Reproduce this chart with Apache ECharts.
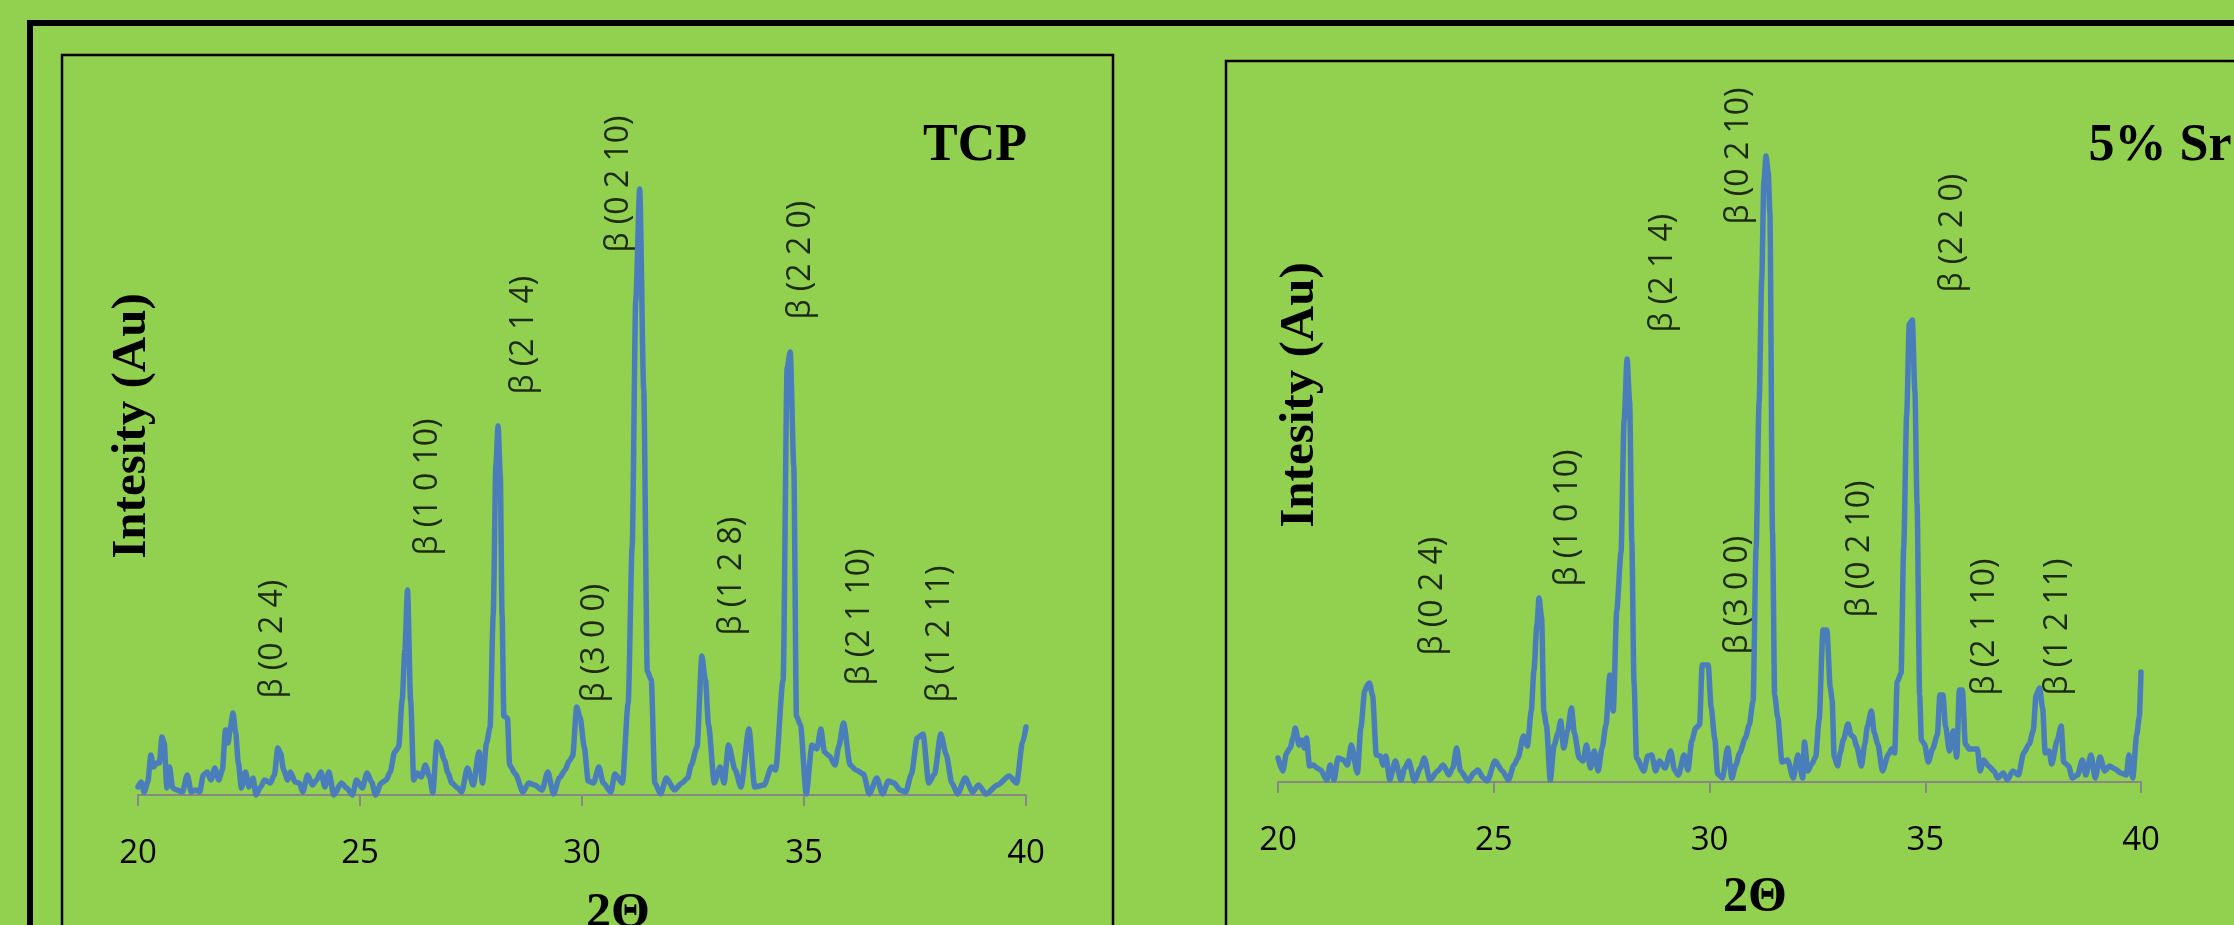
<!DOCTYPE html>
<html>
<head>
<meta charset="utf-8">
<title>XRD TCP / 5% Sr</title>
<script src="https://cdn.jsdelivr.net/npm/echarts@6/dist/echarts.min.js"></script>
<style>
html, body { margin: 0; padding: 0; background: #92d050; }
#chart { width: 2234px; height: 925px; }
</style>
</head>
<body>
<div id="chart"></div>
<script>
// TCP pattern (2 theta, intensity in a.u.)
const tcpTheta = [20.00, 20.07, 20.14, 20.22, 20.29, 20.35, 20.42, 20.48, 20.54, 20.59, 20.65, 20.71, 20.78, 20.87, 21.00, 21.11, 21.20, 21.30, 21.39, 21.47,
	21.56, 21.64, 21.73, 21.82, 21.90, 21.97, 22.03, 22.08, 22.14, 22.20, 22.26, 22.33, 22.42, 22.50, 22.59, 22.66, 22.76, 22.85, 22.98, 23.07,
	23.15, 23.21, 23.28, 23.37, 23.43, 23.54, 23.63, 23.71, 23.82, 23.93, 24.02, 24.12, 24.21, 24.30, 24.41, 24.58, 24.70, 24.83, 24.92, 25.05,
	25.16, 25.26, 25.35, 25.48, 25.59, 25.68, 25.78, 25.87, 25.95, 26.01, 26.07, 26.14, 26.21, 26.29, 26.38, 26.47, 26.57, 26.64, 26.73, 26.80,
	26.90, 26.98, 27.07, 27.20, 27.29, 27.42, 27.55, 27.68, 27.76, 27.85, 27.93, 28.00, 28.06, 28.11, 28.16, 28.20, 28.24, 28.32, 28.37, 28.50,
	28.67, 28.80, 28.93, 29.10, 29.23, 29.36, 29.49, 29.62, 29.71, 29.79, 29.88, 29.96, 30.05, 30.14, 30.26, 30.38, 30.48, 30.65, 30.74, 30.91,
	31.04, 31.13, 31.21, 31.30, 31.39, 31.47, 31.56, 31.64, 31.77, 31.90, 32.08, 32.25, 32.38, 32.46, 32.59, 32.70, 32.78, 32.85, 32.98, 33.11,
	33.20, 33.30, 33.45, 33.58, 33.76, 33.89, 34.10, 34.27, 34.36, 34.53, 34.62, 34.69, 34.77, 34.83, 34.92, 35.05, 35.18, 35.29, 35.38, 35.46,
	35.57, 35.70, 35.78, 35.89, 36.04, 36.17, 36.34, 36.47, 36.64, 36.77, 36.90, 37.03, 37.16, 37.29, 37.42, 37.55, 37.68, 37.81, 37.94, 38.08,
	38.20, 38.33, 38.46, 38.63, 38.80, 38.93, 39.10, 39.36, 39.62, 39.79, 39.92, 40.00];
const tcpIntensity = [8, 13, 3, 13, 40, 28, 32, 32, 58, 52, 7, 28, 7, 5, 3, 20, 3, 5, 3, 20,
	23, 15, 27, 15, 25, 65, 52, 68, 82, 62, 32, 7, 23, 8, 17, 0, 8, 15, 12, 20,
	47, 42, 25, 15, 23, 13, 12, 3, 20, 10, 15, 23, 8, 23, 0, 12, 7, 0, 15, 7,
	22, 13, 0, 12, 15, 23, 43, 48, 95, 145, 205, 95, 15, 22, 18, 30, 18, 2, 53, 48,
	35, 22, 12, 7, 3, 27, 10, 43, 12, 52, 68, 180, 330, 369, 320, 180, 79, 77, 30, 21,
	3, 12, 10, 5, 23, 1, 17, 25, 34, 39, 88, 77, 48, 14, 12, 28, 12, 3, 21, 12,
	92, 249, 494, 606, 405, 124, 115, 12, 1, 17, 5, 12, 17, 30, 48, 139, 115, 70, 12, 28,
	12, 50, 25, 8, 66, 8, 10, 28, 25, 115, 427, 443, 329, 79, 70, 1, 50, 46, 66, 43,
	39, 30, 48, 72, 30, 25, 21, 1, 17, 1, 14, 12, 5, 3, 21, 57, 61, 12, 21, 61,
	41, 12, 1, 17, 3, 10, 1, 10, 19, 12, 52, 68];

// 5% Sr pattern
const srTheta = [20.00, 20.11, 20.20, 20.28, 20.35, 20.40, 20.49, 20.55, 20.61, 20.66, 20.73, 20.82, 20.90, 20.99, 21.13, 21.21, 21.30, 21.39, 21.52, 21.61,
	21.70, 21.84, 21.92, 22.01, 22.07, 22.12, 22.19, 22.28, 22.37, 22.44, 22.50, 22.59, 22.72, 22.85, 22.94, 23.03, 23.16, 23.30, 23.39, 23.52,
	23.70, 23.83, 23.96, 24.05, 24.14, 24.23, 24.41, 24.54, 24.63, 24.76, 24.85, 25.03, 25.20, 25.34, 25.47, 25.56, 25.69, 25.78, 25.87, 25.93,
	26.00, 26.05, 26.11, 26.16, 26.22, 26.31, 26.40, 26.49, 26.55, 26.62, 26.71, 26.80, 26.87, 26.98, 27.07, 27.15, 27.24, 27.33, 27.42, 27.51,
	27.60, 27.69, 27.77, 27.85, 27.95, 28.02, 28.09, 28.15, 28.20, 28.25, 28.31, 28.48, 28.57, 28.66, 28.75, 28.84, 28.97, 29.10, 29.19, 29.28,
	29.41, 29.50, 29.59, 29.68, 29.77, 29.83, 29.97, 30.04, 30.12, 30.19, 30.30, 30.42, 30.52, 30.61, 30.70, 30.83, 30.92, 31.01, 31.08, 31.15,
	31.21, 31.26, 31.31, 31.36, 31.40, 31.46, 31.51, 31.58, 31.68, 31.81, 31.94, 32.05, 32.16, 32.20, 32.28, 32.37, 32.46, 32.54, 32.63, 32.72,
	32.80, 32.84, 32.89, 32.97, 33.03, 33.10, 33.21, 33.28, 33.34, 33.41, 33.52, 33.60, 33.66, 33.75, 33.82, 33.90, 34.01, 34.14, 34.22, 34.29,
	34.35, 34.44, 34.50, 34.57, 34.63, 34.70, 34.76, 34.81, 34.87, 34.91, 34.98, 35.07, 35.17, 35.28, 35.34, 35.41, 35.47, 35.56, 35.65, 35.73,
	35.79, 35.86, 35.93, 36.02, 36.12, 36.21, 36.27, 36.35, 36.47, 36.59, 36.68, 36.81, 36.90, 37.03, 37.16, 37.28, 37.41, 37.50, 37.57, 37.65,
	37.72, 37.78, 37.87, 37.93, 38.06, 38.15, 38.21, 38.32, 38.41, 38.53, 38.64, 38.72, 38.84, 38.94, 39.05, 39.16, 39.27, 39.40, 39.53, 39.66,
	39.72, 39.81, 39.90, 39.96, 40.00];
const srIntensity = [24, 11, 29, 34, 44, 54, 37, 42, 34, 44, 16, 17, 14, 12, 2, 17, 2, 24, 22, 17,
	37, 9, 54, 91, 97, 99, 87, 27, 26, 17, 26, 2, 21, 2, 14, 21, 1, 14, 24, 2,
	11, 17, 7, 14, 34, 11, 1, 9, 12, 4, 1, 21, 11, 2, 17, 24, 46, 36, 71, 111,
	157, 184, 164, 71, 57, 2, 37, 49, 61, 34, 51, 74, 49, 24, 21, 37, 14, 31, 11, 34,
	57, 107, 71, 171, 230, 360, 423, 380, 240, 100, 24, 11, 26, 27, 11, 21, 14, 31, 12, 7,
	27, 12, 41, 54, 57, 117, 117, 74, 44, 8, 4, 34, 4, 17, 29, 44, 57, 81, 234, 380,
	502, 600, 626, 610, 569, 250, 87, 65, 20, 22, 4, 27, 4, 40, 11, 18, 25, 62, 152, 152,
	94, 83, 25, 16, 29, 42, 58, 47, 45, 36, 16, 38, 56, 71, 49, 38, 11, 27, 33, 29,
	100, 109, 234, 368, 458, 462, 391, 279, 87, 42, 38, 20, 33, 47, 87, 87, 56, 31, 51, 25,
	92, 92, 38, 33, 33, 33, 11, 22, 16, 11, 4, 9, 2, 11, 7, 29, 38, 51, 87, 94,
	74, 29, 31, 18, 42, 56, 20, 16, 4, 7, 22, 7, 27, 4, 25, 11, 16, 13, 9, 7,
	27, 4, 47, 65, 110];

// peak annotations: hkl text, 2 theta, intensity where the text starts
const tcpPeakNames = ['β (0 2 4)', 'β (1 0 10)', 'β (2 1 4)', 'β (3 0 0)', 'β (0 2 10)', 'β (1 2 8)', 'β (2 2 0)', 'β (2 1 10)', 'β (1 2 11)'];
const tcpPeakTheta = [23.06, 26.55, 28.71, 30.30, 30.85, 33.39, 34.93, 36.28, 38.08];
const tcpPeakBase = [96, 239, 400, 92, 542, 159, 475, 109, 92];

const srPeakNames = ['β (0 2 4)', 'β (1 0 10)', 'β (2 1 4)', 'β (0 2 10)', 'β (3 0 0)', 'β (0 2 10)', 'β (2 2 0)', 'β (2 1 10)', 'β (1 2 11)'];
const srPeakTheta = [23.60, 26.74, 28.94, 30.70, 30.67, 33.50, 35.65, 36.40, 38.08];
const srPeakBase = [126, 195, 449, 557, 127, 164, 489, 86, 86];

const xTicks = [20, 25, 30, 35, 40];

const chart = echarts.init(document.getElementById('chart'));

function xAxisCfg(idx) {
	return {
		type: 'value', gridIndex: idx,
		min: xTicks[0], max: xTicks[xTicks.length - 1], interval: xTicks[1] - xTicks[0],
		axisLine: { show: true, onZero: false, lineStyle: { color: '#878787', width: 2 } },
		axisTick: { show: true, inside: false, length: 11, lineStyle: { color: '#878787', width: 2 } },
		axisLabel: { margin: 42, fontFamily: 'Open Sans', fontSize: 33, color: '#000', showMinLabel: true, showMaxLabel: true },
		splitLine: { show: false }
	};
}

function yAxisCfg(idx) {
	return { type: 'value', gridIndex: idx, min: 0, max: 700, show: false };
}

function lineSeries(idx, theta, inten) {
	return {
		type: 'line', xAxisIndex: idx, yAxisIndex: idx,
		data: theta.map((t, i) => [t, inten[i]]),
		symbol: 'none', showSymbol: false,
		smooth: 0.25, smoothMonotone: 'x',
		lineStyle: { color: '#4a7ebb', width: 5.5, join: 'round', cap: 'round' },
		silent: true, clip: false
	};
}

function peakSeries(idx, names, theta, base) {
	return {
		type: 'scatter', xAxisIndex: idx, yAxisIndex: idx,
		symbolSize: 1, silent: true,
		itemStyle: { color: 'rgba(0,0,0,0)' },
		data: names.map((n, i) => [theta[i], base[i], n]),
		label: {
			show: true, position: [0, 0], rotate: 90, align: 'left', verticalAlign: 'middle',
			formatter: p => p.data[2],
			fontFamily: 'Open Sans', fontSize: 32, color: '#000'
		}
	};
}

function title(text, x, y, size, rot) {
	return {
		type: 'text', x: x, y: y, rotation: rot || 0,
		style: {
			text: text, font: 'bold ' + size + 'px "Liberation Serif", "Times New Roman", serif',
			fill: '#000', textAlign: 'center', textVerticalAlign: 'middle', align: 'center', verticalAlign: 'middle'
		}
	};
}

const option = {
	backgroundColor: '#92d050',
	animation: false,
	grid: [
		{ left: 138, width: 888, top: 95, height: 700 },
		{ left: 1278, width: 863, top: 82, height: 700 }
	],
	xAxis: [xAxisCfg(0), xAxisCfg(1)],
	yAxis: [yAxisCfg(0), yAxisCfg(1)],
	series: [
		lineSeries(0, tcpTheta, tcpIntensity),
		lineSeries(1, srTheta, srIntensity),
		peakSeries(0, tcpPeakNames, tcpPeakTheta, tcpPeakBase),
		peakSeries(1, srPeakNames, srPeakTheta, srPeakBase)
	],
	graphic: [
		// frames
		{ type: 'rect', shape: { x: 30, y: 23, width: 2400, height: 1100 }, style: { fill: null, stroke: '#000', lineWidth: 6 } },
		{ type: 'rect', shape: { x: 62, y: 55, width: 1051, height: 1000 }, style: { fill: null, stroke: '#000', lineWidth: 2.5 } },
		{ type: 'rect', shape: { x: 1226, y: 61, width: 1200, height: 1000 }, style: { fill: null, stroke: '#000', lineWidth: 2.5 } },
		title('TCP', 975, 147, 52),
		title('5% Sr', 2160, 147, 52),
		title('Intesity (Au)', 132, 426, 49, Math.PI / 2),
		title('Intesity (Au)', 1300, 395, 49, Math.PI / 2),
		title('2Θ', 618, 914, 50),
		title('2Θ', 1755, 898, 50)
	]
};

chart.setOption(option);
</script>
</body>
</html>
